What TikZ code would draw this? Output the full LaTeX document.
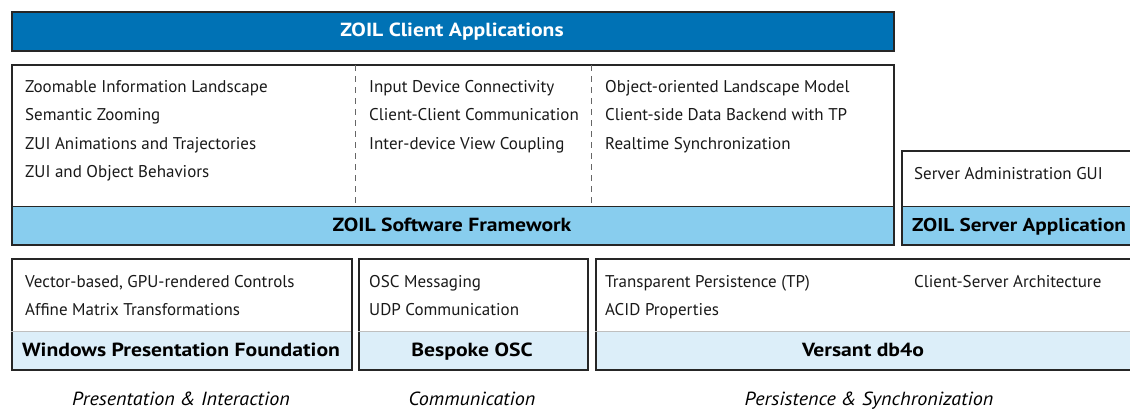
\documentclass[tikz,border=0pt]{standalone}
\usepackage{fontspec}
\setmainfont{PT Sans}
\newfontfamily\titlefont[FakeStretch=1.14]{PT Sans Bold}
\newfontfamily\catfont[FakeStretch=1.06]{PT Sans Italic}
\definecolor{zoilblue}{HTML}{0072B5}
\definecolor{bandblue}{HTML}{88CDEE}
\definecolor{paleblue}{HTML}{DCEEF9}
\begin{document}
\begin{tikzpicture}[x=1pt,y=-1pt,
  box/.style={draw=black!85, line width=1.5pt, fill=white, anchor=north west, inner sep=0pt},
  band/.style={fill=#1, anchor=north west, inner sep=0pt, minimum height=38},
  item/.style={anchor=base west, inner sep=0pt, font=\fontsize{17}{19}\selectfont, text=black!90},
  title/.style={anchor=base, inner sep=0pt, font=\fontsize{19}{21}\titlefont},
  cat/.style={anchor=base, inner sep=0pt, font=\fontsize{19}{21}\catfont},
  sep/.style={draw=black!60, line width=1pt, dash pattern=on 6pt off 5pt}]
\useasboundingbox (0,0) rectangle (1130,408);
\clip (0,0) rectangle (1130,408);
% top bar
\node[box, fill=zoilblue, minimum width=882, minimum height=39] (client) at (11,11) {};
\node[title, text=white] (clientt) at (452,36.5) {ZOIL Client Applications};
% framework
\node[band=bandblue, minimum width=882] (fwband) at (11,206) {};
\node[box, fill=none, minimum width=882, minimum height=180] (fw) at (11,64) {};
\coordinate (d1t) at (355,65);
\coordinate (d1b) at (355,206);
\coordinate (d2t) at (591,65);
\coordinate (d2b) at (591,206);
\draw[sep] (d1t) -- (d1b);
\draw[sep] (d2t) -- (d2b);
\draw[black!85, line width=1pt] (fwband.north west) -- (fwband.north east);
\node[title] (fwt) at (452,231.5) {ZOIL Software Framework};
\node[item] (a1) at (25,92) {Zoomable Information Landscape};
\node[item] (a2) at (25,120.5) {Semantic Zooming};
\node[item] (a3) at (25,149) {ZUI Animations and Trajectories};
\node[item] (a4) at (25,177.5) {ZUI and Object Behaviors};
\node[item] (b1) at (369,92) {Input Device Connectivity};
\node[item] (b2) at (369,120.5) {Client-Client Communication};
\node[item] (b3) at (369,149) {Inter-device View Coupling};
\node[item] (c1) at (605,92) {Object-oriented Landscape Model};
\node[item] (c2) at (605,120.5) {Client-side Data Backend with TP};
\node[item] (c3) at (605,149) {Realtime Synchronization};
% server
\node[band=bandblue, minimum width=240] (svband) at (901,206) {};
\node[box, fill=none, minimum width=240, minimum height=94] (sv) at (901,150) {};
\draw[black!85, line width=1pt] (svband.north west) -- (svband.north east);
\node[item] (s1) at (914,179) {Server Administration GUI};
\node[title, anchor=base west, font=\fontsize{18.6}{21}\titlefont] (svt) at (912,231.5) {ZOIL Server Application};
% bottom boxes
\node[band=paleblue, minimum width=340] (wpfband) at (11,331) {};
\node[box, fill=none, minimum width=340, minimum height=111] (wpf) at (11,258) {};
\draw[black!25, line width=1pt] (wpfband.north west) -- (wpfband.north east);
\node[item] (w1) at (25,287) {Vector-based, GPU-rendered Controls};
\node[item] (w2) at (25,315) {Affine Matrix Transformations};
\node[title] (wt) at (181,356.5) {Windows Presentation Foundation};

\node[band=paleblue, minimum width=229] (oscband) at (358,331) {};
\node[box, fill=none, minimum width=229, minimum height=111] (osc) at (358,258) {};
\draw[black!25, line width=1pt] (oscband.north west) -- (oscband.north east);
\node[item] (o1) at (369,287) {OSC Messaging};
\node[item] (o2) at (369,315) {UDP Communication};
\node[title] (ot) at (472,356.5) {Bespoke OSC};

\node[band=paleblue, minimum width=545] (dbband) at (595,331) {};
\node[box, fill=none, minimum width=545, minimum height=111] (db) at (595,258) {};
\draw[black!25, line width=1pt] (dbband.north west) -- (dbband.north east);
\node[item] (v1) at (605,287) {Transparent Persistence (TP)};
\node[item] (v2) at (605,315) {ACID Properties};
\node[item] (v3) at (914,287) {Client-Server Architecture};
\node[title] (vt) at (863,356.5) {Versant db4o};
% categories
\node[cat] (k1) at (181,405) {Presentation \& Interaction};
\node[cat] (k2) at (472,405) {Communication};
\node[cat] (k3) at (869,405) {Persistence \& Synchronization};
\end{tikzpicture}
\end{document}
